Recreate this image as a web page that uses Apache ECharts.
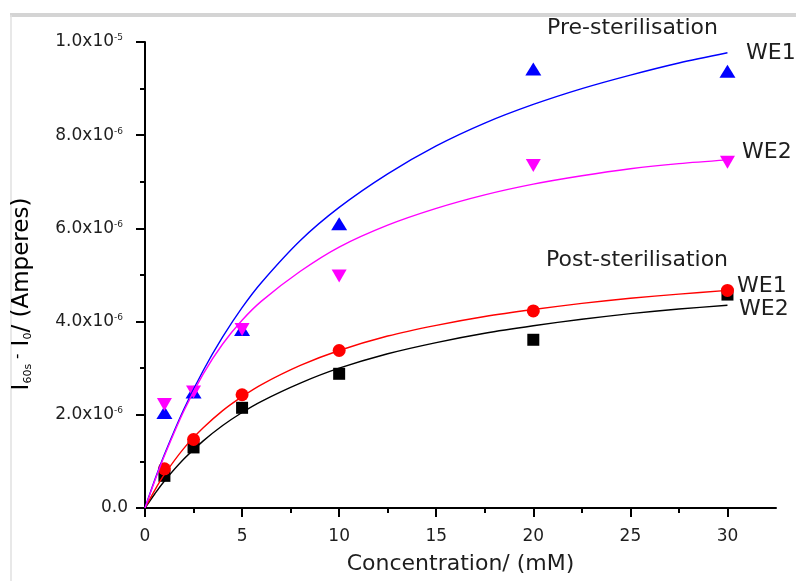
<!DOCTYPE html>
<html>
<head>
<meta charset="utf-8">
<script src="https://cdn.jsdelivr.net/npm/echarts@6/dist/echarts.min.js"></script>
<style>html,body{margin:0;padding:0;background:#fff}#c{width:796px;height:581px}</style>
</head>
<body>
<div id="c"></div>
<script>
// Measured points (current in units of 1e-6 A)
const concentrations = [1, 2.5, 5, 10, 20, 30];
const we1Pre  = [2.05, 2.49, 3.83, 6.10, 9.42, 9.37];
const we2Pre  = [2.22, 2.49, 3.83, 4.98, 7.35, 7.42];
const we1Post = [0.84, 1.47, 2.43, 3.38, 4.23, 4.67];
const we2Post = [0.69, 1.30, 2.15, 2.88, 3.61, 4.58];

// Fitted curves (units of 1e-6 A)
const fitX = [0, 0.5, 1, 2, 3, 4, 5, 6, 8, 10, 12.5, 15, 17.5, 20, 22.5, 25, 27.5, 30];
const fitWe1Pre  = [0, 0.60, 1.15, 2.12, 2.95, 3.67, 4.30, 4.84, 5.74, 6.45, 7.17, 7.77, 8.26, 8.66, 9.00, 9.29, 9.55, 9.77];
const fitWe2Pre  = [0, 0.58, 1.12, 2.08, 2.88, 3.52, 4.03, 4.44, 5.08, 5.60, 6.07, 6.43, 6.72, 6.95, 7.13, 7.28, 7.39, 7.47];
const fitWe1Post = [0, 0.38, 0.72, 1.28, 1.72, 2.09, 2.39, 2.65, 3.06, 3.38, 3.69, 3.92, 4.11, 4.26, 4.39, 4.50, 4.59, 4.67];
const fitWe2Post = [0, 0.30, 0.58, 1.05, 1.44, 1.77, 2.05, 2.29, 2.68, 3.00, 3.31, 3.55, 3.75, 3.91, 4.05, 4.17, 4.27, 4.35];

// Axis ticks
const xMajorTicks = [0, 5, 10, 15, 20, 25, 30];
const xMinorTicks = [2.5, 7.5, 12.5, 17.5, 22.5, 27.5];
const yTickValues = [0, 2, 4, 6, 8, 10];
const yTickMantissa = ['0.0', '2.0x10', '4.0x10', '6.0x10', '8.0x10', '1.0x10'];
const yTickExp = ['', '-6', '-6', '-6', '-6', '-5'];

const FONT = 'DejaVu Sans';
const TXT = '#1e1e1e';

function pairs(xs, ys) { return xs.map((x, i) => [x, ys[i]]); }

const chart = echarts.init(document.getElementById('c'), null, {renderer: 'canvas'});

function fitSeries(data, color) {
  return {
    type: 'line', data: pairs(fitX, data), showSymbol: false, smooth: 0.3,
    lineStyle: {width: 1.4, color}, itemStyle: {color},
    silent: true, animation: false, xAxisIndex: 0, yAxisIndex: 0
  };
}
function pointSeries(data, color, symbol, size, rot) {
  return {
    type: 'scatter', data: pairs(concentrations, data), symbol, symbolSize: size,
    symbolRotate: rot || 0, itemStyle: {color, opacity: 1}, animation: false,
    xAxisIndex: 0, yAxisIndex: 0
  };
}

const option = {
  backgroundColor: '#fff',
  animation: false,
  grid: {left: 145, top: 42, right: 20, bottom: 73, containLabel: false},
  xAxis: [{
    type: 'value', min: 0, max: 32.5, interval: 5,
    axisLine: {show: true, onZero: false, lineStyle: {color: '#000', width: 2}},
    axisTick: {show: true, inside: false, length: 9, customValues: xMajorTicks, lineStyle: {color: '#000', width: 2}},
    axisLabel: {show: true, customValues: xMajorTicks, margin: 20, fontFamily: FONT, fontSize: 17, color: TXT},
    splitLine: {show: false},
    name: 'Concentration/ (mM)', nameLocation: 'middle', nameGap: 45,
    nameTextStyle: {fontFamily: FONT, fontSize: 22, color: TXT}
  }, {
    type: 'value', min: 0, max: 32.5, position: 'bottom',
    axisLine: {show: false},
    axisTick: {show: true, inside: false, length: 5, customValues: xMinorTicks, lineStyle: {color: '#000', width: 2}},
    axisLabel: {show: false},
    splitLine: {show: false}
  }],
  yAxis: {
    type: 'value', min: 0, max: 10, interval: 2,
    axisLine: {show: true, onZero: false, lineStyle: {color: '#000', width: 2}},
    axisTick: {show: true, inside: false, length: 9, lineStyle: {color: '#000', width: 2}},
    minorTick: {show: true, splitNumber: 2, length: 5, lineStyle: {color: '#000', width: 2}},
    axisLabel: {
      margin: 17,
      formatter: function (v) {
        const i = yTickValues.indexOf(v);
        if (i < 0) return '';
        return yTickExp[i] ? '{m|' + yTickMantissa[i] + '}{e|' + yTickExp[i] + '}' : '{m|' + yTickMantissa[i] + '}';
      },
      rich: {
        m: {fontFamily: FONT, fontSize: 17, color: TXT},
        e: {fontFamily: FONT, fontSize: 9, color: TXT, verticalAlign: 'top', padding: [0, 5, 0, 0]}
      }
    },
    splitLine: {show: false}
  },
  series: [
    fitSeries(fitWe2Post, '#000000'),
    fitSeries(fitWe1Post, '#ff0000'),
    fitSeries(fitWe1Pre, '#0000ff'),
    fitSeries(fitWe2Pre, '#ff00ff'),
    pointSeries(we2Post, '#000000', 'rect', 12),
    pointSeries(we1Post, '#ff0000', 'circle', 13),
    pointSeries(we1Pre, '#0000ff', 'triangle', [16, 13]),
    pointSeries(we2Pre, '#ff00ff', 'triangle', [15, 13], 180)
  ],
  graphic: [
    {type: 'rect', shape: {x: 10, y: 13, width: 786, height: 4}, style: {fill: '#d4d4d4'}, silent: true},
    {type: 'line', shape: {x1: 11, y1: 15, x2: 11, y2: 581}, style: {stroke: '#e0e0e0', lineWidth: 1.5}, silent: true},
    {type: 'text', x: 547, y: 28, style: {text: 'Pre-sterilisation', font: '22px "DejaVu Sans"', fill: TXT, align: 'left', verticalAlign: 'middle'}},
    {type: 'text', x: 746, y: 53, style: {text: 'WE1', font: '22px "DejaVu Sans"', fill: TXT, align: 'left', verticalAlign: 'middle'}},
    {type: 'text', x: 742, y: 152, style: {text: 'WE2', font: '22px "DejaVu Sans"', fill: TXT, align: 'left', verticalAlign: 'middle'}},
    {type: 'text', x: 546, y: 260, style: {text: 'Post-sterilisation', font: '22px "DejaVu Sans"', fill: TXT, align: 'left', verticalAlign: 'middle'}},
    {type: 'text', x: 737, y: 286, style: {text: 'WE1', font: '22px "DejaVu Sans"', fill: TXT, align: 'left', verticalAlign: 'middle'}},
    {type: 'text', x: 739, y: 309, style: {text: 'WE2', font: '22px "DejaVu Sans"', fill: TXT, align: 'left', verticalAlign: 'middle'}},
    {type: 'text', x: 22, y: 294, rotation: Math.PI / 2,
     style: {
       text: '{n|I}{b|60s}{p| -}{n| I}{b|0}{n|/ (Amperes)}',
       x: 0, y: 0, align: 'center', verticalAlign: 'middle',
       rich: {
         n: {fontFamily: FONT, fontSize: 23, color: TXT},
         b: {fontFamily: FONT, fontSize: 11, color: TXT, verticalAlign: 'bottom'},
         p: {fontFamily: FONT, fontSize: 15, color: TXT, verticalAlign: 'top'}
       }
     }}
  ]
};
chart.setOption(option);
</script>
</body>
</html>
